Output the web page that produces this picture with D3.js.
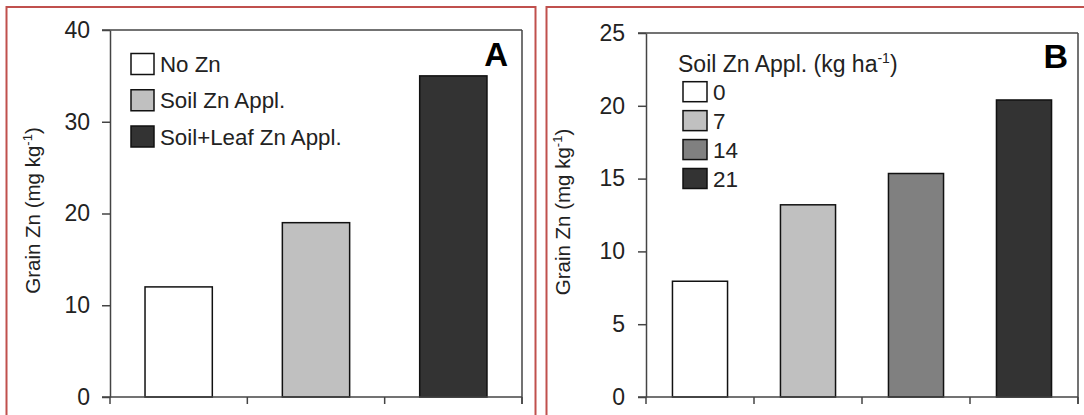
<!DOCTYPE html>
<html>
<head>
<meta charset="utf-8">
<script src="https://cdn.jsdelivr.net/npm/d3@7"></script>
<style>
  html, body { margin: 0; padding: 0; background: #fff; }
  svg { display: block; font-family: "Liberation Sans", Arial, sans-serif; }
</style>
</head>
<body>
<svg id="chart" width="1084" height="415"></svg>
<script>
// ---------- data ----------
const categoriesA = ["No Zn", "Soil Zn Appl.", "Soil+Leaf Zn Appl."];
const valuesA = [12, 19, 35];
const fillsA = ["#ffffff", "#c0c0c0", "#333333"];
const ticksA = [0, 10, 20, 30, 40];

const categoriesB = ["0", "7", "14", "21"];
const valuesB = [7.95, 13.2, 15.35, 20.4];
const fillsB = ["#ffffff", "#c0c0c0", "#808080", "#333333"];
const ticksB = [0, 5, 10, 15, 20, 25];
const legendTitleB = "Soil Zn Appl. (kg ha";

const svg = d3.select("#chart");
const textColor = "#222";
const axisColor = "#444";

// red panel borders
svg.append("rect").attr("x", 6.5).attr("y", 7).attr("width", 529).attr("height", 500)
  .attr("fill", "none").attr("stroke", "#c0504d").attr("stroke-width", 2);
svg.append("rect").attr("x", 546.5).attr("y", 7).attr("width", 600).attr("height", 500)
  .attr("fill", "none").attr("stroke", "#c0504d").attr("stroke-width", 2);

function panel(opts) {
  const g = svg.append("g");
  const x = d3.scaleBand().domain(opts.cats).range([opts.x0, opts.x1])
    .paddingInner(opts.pad).paddingOuter(opts.pad / 2);
  const y = d3.scaleLinear().domain([0, opts.ymax]).range([opts.yb, opts.yt]);

  // bars
  g.selectAll("rect.bar").data(opts.cats).enter().append("rect")
    .attr("class", "bar")
    .attr("x", d => x(d))
    .attr("width", x.bandwidth())
    .attr("y", (d, i) => y(opts.vals[i]))
    .attr("height", (d, i) => y(0) - y(opts.vals[i]))
    .attr("fill", (d, i) => opts.fills[i])
    .attr("stroke", "#111").attr("stroke-width", 1.5);

  // frame top/right
  g.append("line").attr("x1", opts.x0 - 8).attr("x2", opts.x1).attr("y1", y(opts.ymax)).attr("y2", y(opts.ymax))
    .attr("stroke", axisColor).attr("stroke-width", 1.5);
  g.append("line").attr("x1", opts.x1).attr("x2", opts.x1).attr("y1", y(opts.ymax)).attr("y2", y(0) + 7)
    .attr("stroke", axisColor).attr("stroke-width", 1.5);

  // y axis
  const ya = g.append("g").attr("transform", `translate(${opts.x0},0)`)
    .call(d3.axisLeft(y).tickValues(opts.ticks).tickSize(8).tickPadding(opts.tp).tickSizeOuter(0));
  ya.select(".domain").attr("stroke", axisColor).attr("stroke-width", 1.5);
  ya.selectAll(".tick line").attr("stroke", axisColor).attr("stroke-width", 1.5);
  ya.selectAll(".tick text").attr("font-size", 23).attr("fill", textColor)
    .attr("font-family", "Liberation Sans, Arial, sans-serif");

  // x axis (baseline + category boundary ticks)
  g.append("line").attr("x1", opts.x0 - 8).attr("x2", opts.x1).attr("y1", y(0)).attr("y2", y(0))
    .attr("stroke", axisColor).attr("stroke-width", 1.5);
  const bounds = d3.range(opts.cats.length + 1).map(i => opts.x0 + i * x.step());
  g.selectAll("line.xt").data(bounds).enter().append("line").attr("class", "xt")
    .attr("x1", d => d).attr("x2", d => d).attr("y1", y(0)).attr("y2", y(0) + 7)
    .attr("stroke", axisColor).attr("stroke-width", 1.5);

  // y title
  const t = g.append("text")
    .attr("transform", `translate(${opts.titleX},${(y(0) + y(opts.ymax)) / 2 - 3}) rotate(-90)`)
    .attr("text-anchor", "middle").attr("font-size", 20.5).attr("fill", textColor);
  t.append("tspan").text("Grain Zn (mg kg");
  t.append("tspan").attr("font-size", 13).attr("dy", -8).text("-1");
  t.append("tspan").attr("dy", 8).text(")");

  // panel label
  g.append("text").attr("x", opts.labX).attr("y", opts.labY).attr("text-anchor", "end")
    .attr("font-size", opts.labSize).attr("font-weight", "bold").attr("fill", "#000").text(opts.label);
  return g;
}

const gA = panel({cats: categoriesA, vals: valuesA, fills: fillsA, ticks: ticksA, ymax: 40,
  x0: 110, x1: 522, yb: 397, yt: 30, pad: 0.51, tp: 12, titleX: 40,
  label: "A", labX: 508, labY: 65.5, labSize: 33});
const gB = panel({cats: categoriesB, vals: valuesB, fills: fillsB, ticks: ticksB, ymax: 25,
  x0: 646, x1: 1078, yb: 397, yt: 33, pad: 0.49, tp: 13, titleX: 570,
  label: "B", labX: 1068, labY: 68, labSize: 34});

// legend A
const legA = svg.append("g");
const legAy = d3.scalePoint().domain(categoriesA).range([64, 136.5]);
categoriesA.forEach((c, i) => {
  legA.append("rect").attr("x", 131).attr("y", legAy(c) - 10.5).attr("width", 23).attr("height", 21)
    .attr("fill", fillsA[i]).attr("stroke", "#111").attr("stroke-width", 1.5);
  legA.append("text").attr("x", 160).attr("y", legAy(c) + 8).attr("font-size", 22.3).attr("fill", textColor).text(c);
});

// legend B
const legB = svg.append("g");
const lt = legB.append("text").attr("x", 678).attr("y", 72).attr("font-size", 23).attr("fill", textColor);
lt.append("tspan").text(legendTitleB);
lt.append("tspan").attr("font-size", 14).attr("dy", -9).text("-1");
lt.append("tspan").attr("dy", 9).text(")");
const legBy = d3.scalePoint().domain(categoriesB).range([91.7, 178.5]);
categoriesB.forEach((c, i) => {
  legB.append("rect").attr("x", 683).attr("y", legBy(c) - 10).attr("width", 24).attr("height", 20)
    .attr("fill", fillsB[i]).attr("stroke", "#111").attr("stroke-width", 1.5);
  legB.append("text").attr("x", 713).attr("y", legBy(c) + 8).attr("font-size", 22.5).attr("fill", textColor).text(c);
});
</script>
</body>
</html>
